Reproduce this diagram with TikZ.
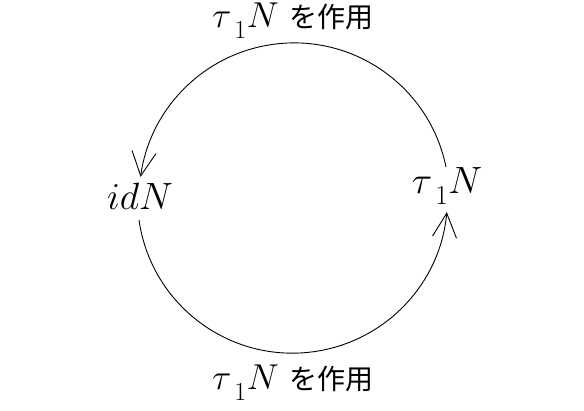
\RequirePackage{fix-cm}
\documentclass[tikz,border=0pt]{standalone}
\usepackage{fontspec}
\newfontfamily\cjk{Noto Sans CJK JP}
\usetikzlibrary{arrows.meta}
\newcommand{\tauN}{$\tau$\kern3pt\raisebox{-0.3em}{\fontsize{0.72em}{1em}\selectfont 1}\kern0.5pt$N$}
\begin{document}
\begin{tikzpicture}[x=1pt,y=-1pt,
  lbl/.style={inner sep=0pt,font=\fontsize{38}{42}\selectfont},
  act/.style={inner sep=0pt,font=\fontsize{36}{40}\selectfont},
  conn/.style={line width=0.9pt,-{Straight Barb[length=24pt,width=24pt,line width=0.9pt]}}]
\useasboundingbox (0,0) rectangle (584,410);
\node[lbl] (id) at (140,196) {$idN$};
\node[lbl] (tau) at (447,186) {\tauN};
\node[act] (top) at (293,21) {\tauN\kern11pt{\cjk\fontsize{28}{30}\selectfont を作用}};
\node[act] (bot) at (293,383) {\tauN\kern11pt{\cjk\fontsize{28}{30}\selectfont を作用}};
\coordinate (a1) at (446,167);
\coordinate (a2) at (139,220);
\draw[conn] (a1) arc[start angle=-11.5,end angle=-172.2,radius=155];
\draw[conn] (a2) arc[start angle=171.9,end angle=5.2,radius=155];
\end{tikzpicture}
\end{document}
